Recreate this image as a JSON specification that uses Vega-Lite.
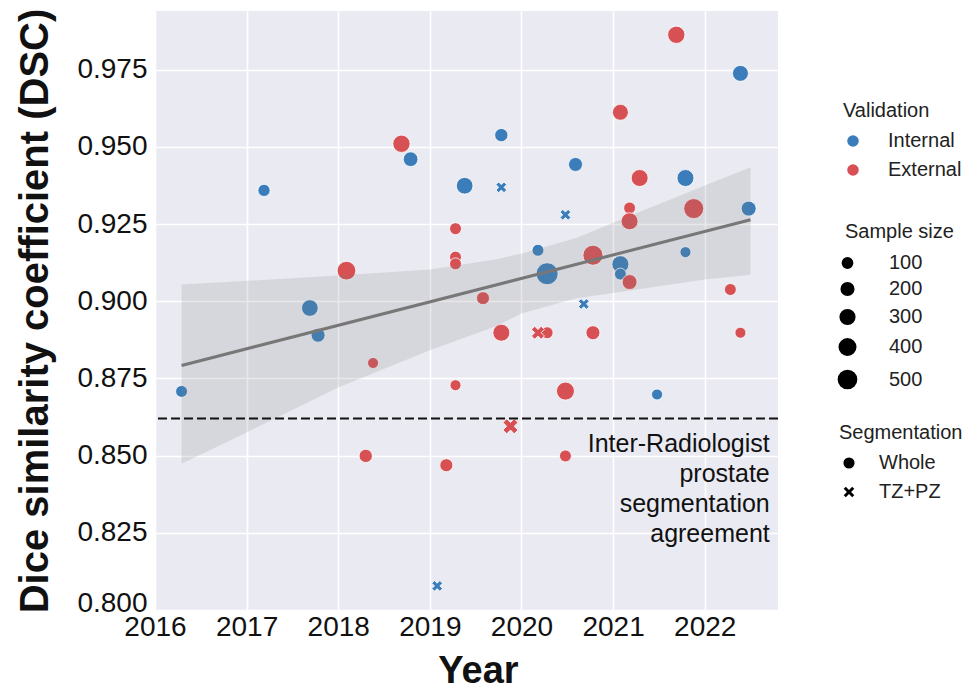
{
  "$schema": "https://vega.github.io/schema/vega-lite/v6.json",
  "width": 623,
  "height": 599,
  "autosize": {"type": "none"},
  "padding": {"left": 155, "top": 11, "right": 199, "bottom": 80},
  "background": "white",
  "config": {
    "font": "Liberation Sans",
    "view": {"fill": "#EAEAF2", "stroke": null},
    "axis": {
      "domain": false,
      "ticks": false,
      "grid": true,
      "gridColor": "white",
      "gridWidth": 1.6,
      "labelColor": "#111111",
      "labelFontSize": 28,
      "labelFlush": false,
      "titleColor": "#111111",
      "titleFontSize": 40,
      "titleFontWeight": "bold"
    },
    "legend": {
      "orient": "none",
      "padding": 0,
      "titleFontSize": 20,
      "titleFontWeight": "normal",
      "titleColor": "#222222",
      "labelFontSize": 20,
      "labelColor": "#222222"
    }
  },
  "datasets": {
    "studies": [
      {"year": 2016.29, "dsc": 0.8708, "n": 50, "validation": "Internal", "segmentation": "Whole"},
      {"year": 2017.19, "dsc": 0.9359, "n": 60, "validation": "Internal", "segmentation": "Whole"},
      {"year": 2017.69, "dsc": 0.8978, "n": 250, "validation": "Internal", "segmentation": "Whole"},
      {"year": 2017.78, "dsc": 0.8890, "n": 130, "validation": "Internal", "segmentation": "Whole"},
      {"year": 2018.79, "dsc": 0.9460, "n": 160, "validation": "Internal", "segmentation": "Whole"},
      {"year": 2019.38, "dsc": 0.9374, "n": 250, "validation": "Internal", "segmentation": "Whole"},
      {"year": 2019.78, "dsc": 0.9538, "n": 100, "validation": "Internal", "segmentation": "Whole"},
      {"year": 2020.18, "dsc": 0.9165, "n": 50, "validation": "Internal", "segmentation": "Whole"},
      {"year": 2020.28, "dsc": 0.9089, "n": 550, "validation": "Internal", "segmentation": "Whole"},
      {"year": 2020.59, "dsc": 0.9443, "n": 130, "validation": "Internal", "segmentation": "Whole"},
      {"year": 2021.08, "dsc": 0.9120, "n": 265, "validation": "Internal", "segmentation": "Whole"},
      {"year": 2021.08, "dsc": 0.9088, "n": 50, "validation": "Internal", "segmentation": "Whole"},
      {"year": 2021.48, "dsc": 0.8698, "n": 20, "validation": "Internal", "segmentation": "Whole"},
      {"year": 2021.79, "dsc": 0.9399, "n": 265, "validation": "Internal", "segmentation": "Whole"},
      {"year": 2021.79, "dsc": 0.9159, "n": 20, "validation": "Internal", "segmentation": "Whole"},
      {"year": 2022.39, "dsc": 0.9738, "n": 215, "validation": "Internal", "segmentation": "Whole"},
      {"year": 2022.48, "dsc": 0.9300, "n": 170, "validation": "Internal", "segmentation": "Whole"},
      {"year": 2019.08, "dsc": 0.8078, "n": 10, "validation": "Internal", "segmentation": "TZ+PZ"},
      {"year": 2019.78, "dsc": 0.9369, "n": 10, "validation": "Internal", "segmentation": "TZ+PZ"},
      {"year": 2020.48, "dsc": 0.9280, "n": 10, "validation": "Internal", "segmentation": "TZ+PZ"},
      {"year": 2020.68, "dsc": 0.8991, "n": 10, "validation": "Internal", "segmentation": "TZ+PZ"},
      {"year": 2018.09, "dsc": 0.9099, "n": 355, "validation": "External", "segmentation": "Whole"},
      {"year": 2018.30, "dsc": 0.8499, "n": 100, "validation": "External", "segmentation": "Whole"},
      {"year": 2018.38, "dsc": 0.8800, "n": 20, "validation": "External", "segmentation": "Whole"},
      {"year": 2018.69, "dsc": 0.9510, "n": 280, "validation": "External", "segmentation": "Whole"},
      {"year": 2019.18, "dsc": 0.8469, "n": 90, "validation": "External", "segmentation": "Whole"},
      {"year": 2019.28, "dsc": 0.9235, "n": 50, "validation": "External", "segmentation": "Whole"},
      {"year": 2019.28, "dsc": 0.9143, "n": 50, "validation": "External", "segmentation": "Whole"},
      {"year": 2019.28, "dsc": 0.9121, "n": 50, "validation": "External", "segmentation": "Whole"},
      {"year": 2019.28, "dsc": 0.8728, "n": 20, "validation": "External", "segmentation": "Whole"},
      {"year": 2019.58, "dsc": 0.9010, "n": 90, "validation": "External", "segmentation": "Whole"},
      {"year": 2019.78, "dsc": 0.8898, "n": 265, "validation": "External", "segmentation": "Whole"},
      {"year": 2020.28, "dsc": 0.8898, "n": 50, "validation": "External", "segmentation": "Whole"},
      {"year": 2020.48, "dsc": 0.8709, "n": 315, "validation": "External", "segmentation": "Whole"},
      {"year": 2020.48, "dsc": 0.8499, "n": 50, "validation": "External", "segmentation": "Whole"},
      {"year": 2020.78, "dsc": 0.9149, "n": 430, "validation": "External", "segmentation": "Whole"},
      {"year": 2020.78, "dsc": 0.8898, "n": 130, "validation": "External", "segmentation": "Whole"},
      {"year": 2021.08, "dsc": 0.9612, "n": 215, "validation": "External", "segmentation": "Whole"},
      {"year": 2021.18, "dsc": 0.9302, "n": 50, "validation": "External", "segmentation": "Whole"},
      {"year": 2021.18, "dsc": 0.9259, "n": 265, "validation": "External", "segmentation": "Whole"},
      {"year": 2021.18, "dsc": 0.9062, "n": 170, "validation": "External", "segmentation": "Whole"},
      {"year": 2021.29, "dsc": 0.9399, "n": 265, "validation": "External", "segmentation": "Whole"},
      {"year": 2021.69, "dsc": 0.9863, "n": 280, "validation": "External", "segmentation": "Whole"},
      {"year": 2021.88, "dsc": 0.9300, "n": 430, "validation": "External", "segmentation": "Whole"},
      {"year": 2022.28, "dsc": 0.9038, "n": 50, "validation": "External", "segmentation": "Whole"},
      {"year": 2022.39, "dsc": 0.8898, "n": 20, "validation": "External", "segmentation": "Whole"},
      {"year": 2020.18, "dsc": 0.8898, "n": 90, "validation": "External", "segmentation": "TZ+PZ"},
      {"year": 2019.88, "dsc": 0.8595, "n": 170, "validation": "External", "segmentation": "TZ+PZ"}
    ],
    "band": [
      {"year": 2016.29, "lower": 0.8474, "upper": 0.9054},
      {"year": 2017.0, "lower": 0.8575, "upper": 0.9066},
      {"year": 2018.0, "lower": 0.8721, "upper": 0.9083},
      {"year": 2019.0, "lower": 0.8841, "upper": 0.9103},
      {"year": 2019.73, "lower": 0.8920, "upper": 0.9136},
      {"year": 2020.0, "lower": 0.8960, "upper": 0.9155},
      {"year": 2020.6, "lower": 0.9010, "upper": 0.9205},
      {"year": 2021.0, "lower": 0.9027, "upper": 0.9254},
      {"year": 2022.0, "lower": 0.9070, "upper": 0.9375},
      {"year": 2022.5, "lower": 0.9086, "upper": 0.9434}
    ],
    "fit": [
      {"year": 2016.29, "fit": 0.8792},
      {"year": 2022.5, "fit": 0.9264}
    ],
    "agreement": [
      {"dsc": 0.862}
    ]
  },
  "layer": [
    {
      "data": {"name": "studies"},
      "mark": {"type": "point", "filled": true, "opacity": 1, "stroke": "white", "strokeWidth": 0.8},
      "encoding": {
        "x": {
          "field": "year",
          "type": "quantitative",
          "scale": {"domain": [2016, 2022.8], "nice": false, "zero": false},
          "axis": {
            "title": "Year",
            "values": [2016, 2017, 2018, 2019, 2020, 2021, 2022],
            "format": "d",
            "labelPadding": 3,
            "titlePadding": 11,
            "titleFontSize": 38,
            "titleX": 323
          }
        },
        "y": {
          "field": "dsc",
          "type": "quantitative",
          "scale": {"domain": [0.8, 0.994], "nice": false, "zero": false},
          "axis": {
            "title": "Dice similarity coefficient (DSC)",
            "values": [0.8, 0.825, 0.85, 0.875, 0.9, 0.925, 0.95, 0.975],
            "format": ".3f",
            "labelPadding": 8,
            "titlePadding": 21,
            "labelFlush": true,
            "labelFlushOffset": 7
          }
        },
        "color": {
          "field": "validation",
          "type": "nominal",
          "scale": {"domain": ["Internal", "External"], "range": ["#3a7dba", "#d65054"]},
          "legend": {
            "title": "Validation",
            "legendX": 688,
            "legendY": 90,
            "symbolSize": 170,
            "labelOffset": 25,
            "titlePadding": 10,
            "rowPadding": 9,
            "encode": {"symbols": {"strokeWidth": {"value": 0}}}
          }
        },
        "size": {
          "field": "n",
          "type": "quantitative",
          "scale": {"domain": [20, 550], "range": [121, 484], "zero": false},
          "legend": {
            "title": "Sample size",
            "values": [100, 200, 300, 400, 500],
            "legendX": 690,
            "legendY": 211,
            "labelOffset": 30,
            "symbolOffset": -9,
            "titlePadding": 11,
            "rowPadding": 5,
            "encode": {
              "symbols": {
                "fill": {"value": "#2b2b2b"},
                "strokeWidth": {"value": 0},
                "opacity": {"value": 1}
              }
            }
          }
        },
        "shape": {
          "field": "segmentation",
          "type": "nominal",
          "scale": {
            "domain": ["Whole", "TZ+PZ"],
            "range": ["circle", "M-1,-0.5L-0.5,-1L0,-0.5L0.5,-1L1,-0.5L0.5,0L1,0.5L0.5,1L0,0.5L-0.5,1L-1,0.5L-0.5,0Z"]
          },
          "legend": {
            "title": "Segmentation",
            "legendX": 684,
            "legendY": 412,
            "symbolSize": 160,
            "labelOffset": 20,
            "titlePadding": 10,
            "rowPadding": 9,
            "encode": {
              "symbols": {
                "fill": {"value": "#2b2b2b"},
                "strokeWidth": {"value": 0},
                "opacity": {"value": 1}
              }
            }
          }
        }
      }
    },
    {
      "data": {"name": "band"},
      "mark": {"type": "area", "color": "#7f7f7f", "opacity": 0.18},
      "encoding": {
        "x": {"field": "year", "type": "quantitative", "scale": {"domain": [2016, 2022.8], "nice": false, "zero": false}},
        "y": {"field": "lower", "type": "quantitative", "scale": {"domain": [0.8, 0.994], "nice": false, "zero": false}},
        "y2": {"field": "upper"}
      }
    },
    {
      "data": {"name": "fit"},
      "mark": {"type": "line", "color": "#777777", "strokeWidth": 3},
      "encoding": {
        "x": {"field": "year", "type": "quantitative"},
        "y": {"field": "fit", "type": "quantitative"}
      }
    },
    {
      "data": {"name": "agreement"},
      "mark": {"type": "rule", "color": "#111111", "strokeWidth": 2, "strokeDash": [9, 4]},
      "encoding": {
        "y": {"field": "dsc", "type": "quantitative"}
      }
    },
    {
      "data": {"name": "agreement"},
      "mark": {
        "type": "text",
        "text": ["Inter-Radiologist", "prostate", "segmentation", "agreement"],
        "align": "right",
        "baseline": "top",
        "lineHeight": 30,
        "fontSize": 25,
        "color": "#111111",
        "dy": 13
      },
      "encoding": {
        "x": {"datum": 2022.71, "type": "quantitative"},
        "y": {"field": "dsc", "type": "quantitative"}
      }
    }
  ]
}
